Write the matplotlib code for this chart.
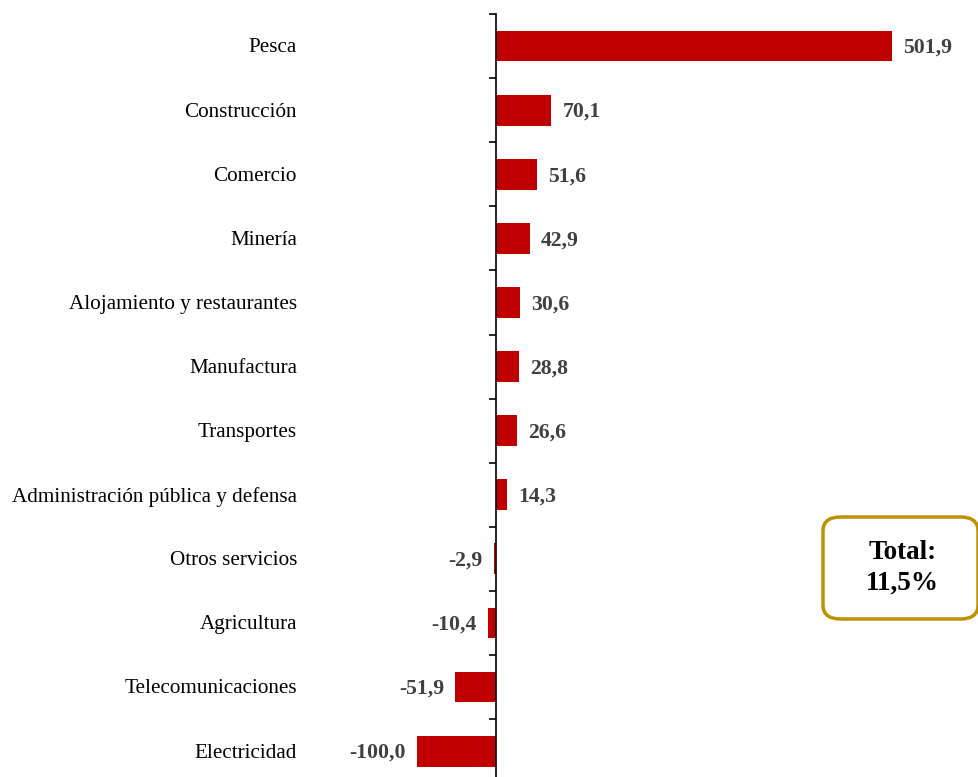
import matplotlib.pyplot as plt
from matplotlib.patches import FancyBboxPatch

# Data
sectores = ['Pesca', 'Construcción', 'Comercio', 'Minería', 'Alojamiento y restaurantes',
            'Manufactura', 'Transportes', 'Administración pública y defensa', 'Otros servicios',
            'Agricultura', 'Telecomunicaciones', 'Electricidad']
valores = [501.9, 70.1, 51.6, 42.9, 30.6, 28.8, 26.6, 14.3, -2.9, -10.4, -51.9, -100.0]
total_txt = 'Total:\n11,5%'

W, H = 979, 777
fig = plt.figure(figsize=(W/100, H/100), dpi=100)

# axes placed in pixel units: zero line at x=496, 0.789 px per unit
px_unit = 396/501.9
ax_l, ax_r = 300, 979
ax_top, ax_bot = 14, 14 + 12*64.1
ax = fig.add_axes([ax_l/W, 1 - ax_bot/H, (ax_r-ax_l)/W, (ax_bot-ax_top)/H])
ax.set_xlim((ax_l-496)/px_unit, (ax_r-496)/px_unit)
ax.set_ylim(len(sectores)-0.5, -0.5)

y = list(range(len(sectores)))
ax.barh(y, valores, height=0.48, color='#C00000')

for s in ['top', 'right', 'bottom']:
    ax.spines[s].set_visible(False)
ax.spines['left'].set_position(('data', 0))
ax.spines['left'].set_linewidth(1.2)
ax.set_xticks([])
ax.set_yticks([i - 0.5 for i in range(len(sectores))])
ax.set_yticklabels([])
ax.tick_params(axis='y', direction='out', length=5, width=1.2)

xlab = (297-496)/px_unit
for i, (s, v) in enumerate(zip(sectores, valores)):
    ax.text(xlab, i + 0.03, s, ha='right', va='center', fontsize=15.2, family='Liberation Serif')
    lbl = f'{v:.1f}'.replace('.', ',')
    ax.annotate(lbl, (v, i + 0.03), xytext=(8 if v >= 0 else -8, 0), textcoords='offset points',
                ha='left' if v >= 0 else 'right', va='center', fontsize=15.7,
                fontweight='bold', color='#404040', family='Liberation Serif')

# total box
bx0, bx1, by0, by1 = 823, 978, 517, 619
box = FancyBboxPatch((bx0/W, 1-by1/H), (bx1-bx0)/W, (by1-by0)/H,
                     boxstyle='round,pad=0,rounding_size=0.018', transform=fig.transFigure,
                     facecolor='white', edgecolor='#BF9000', linewidth=2.5)
fig.patches.append(box)
fig.text((bx0+bx1)/2/W + 0.002, 1-(by0+by1)/2/H, total_txt, ha='center', va='center', fontsize=19.5,
         fontweight='bold', family='Liberation Serif', linespacing=1.32)

fig.savefig('out.png', dpi=100)
